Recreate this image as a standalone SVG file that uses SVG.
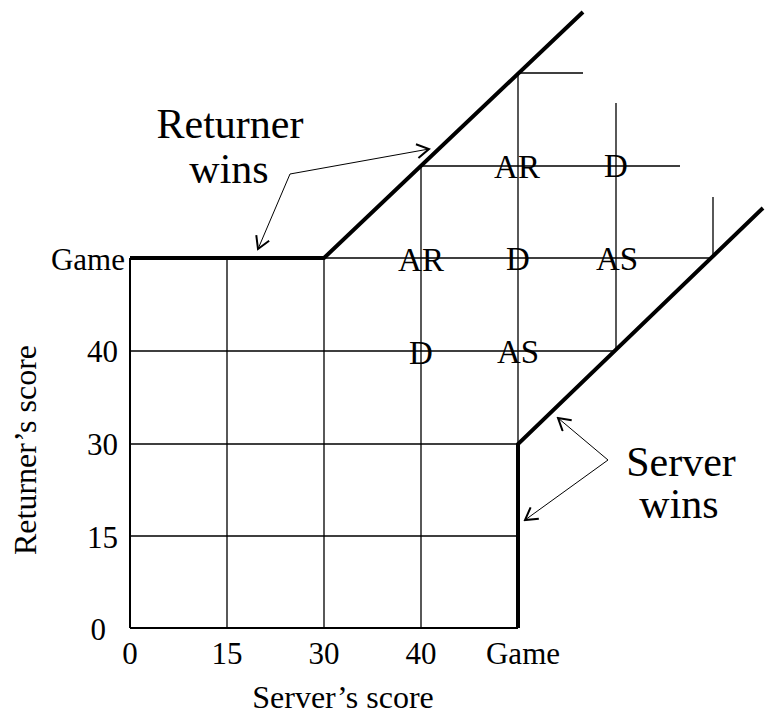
<svg xmlns="http://www.w3.org/2000/svg" width="768" height="715" viewBox="0 0 768 715">
  <style>
    .grid { stroke: #000; stroke-width: 1.3; fill: none; }
    .bound { stroke: #000; stroke-width: 4; fill: none; stroke-linejoin: miter; }
    .conn { stroke: #000; stroke-width: 1; fill: none; }
    text { font-family: "Liberation Serif", "Times New Roman", serif; fill: #000; }
    .big { font-size: 42px; }
    .tick { font-size: 31px; }
    .axis { font-size: 32px; }
    .cell { font-size: 33px; text-anchor: middle; }
  </style>
  <defs>
    <marker id="head" markerWidth="16" markerHeight="16" refX="14" refY="8" orient="auto" markerUnits="userSpaceOnUse">
      <path d="M2,1 L14,8 L2,15" fill="none" stroke="#000" stroke-width="2"/>
    </marker>
  </defs>
  <rect width="768" height="715" fill="#fff"/>

  <!-- score grid -->
  <g id="grid" class="grid">
    <path d="M130,536 H518 M130,444 H518 M130,351 H616 M130,258 H713 M421,166 H680 M518,73 H583"/>
    <path d="M227,258 V628 M324,258 V628 M421,166 V628 M518,73 V628 M616,103 V351 M713,197 V258"/>
    <path d="M130,628 H518 M130,258 V628" stroke-width="2"/>
  </g>

  <!-- winning boundaries -->
  <g id="returner-boundary">
    <path class="bound" d="M130,258 H324 L583,12"/>
  </g>
  <g id="server-boundary">
    <path class="bound" d="M518,628 V444 L763,208"/>
  </g>

  <!-- state labels -->
  <g id="states">
    <text class="cell" x="517" y="178">AR</text>
    <text class="cell" x="616" y="177">D</text>
    <text class="cell" x="421" y="271">AR</text>
    <text class="cell" x="518" y="270">D</text>
    <text class="cell" x="617" y="270">AS</text>
    <text class="cell" x="421" y="364">D</text>
    <text class="cell" x="518" y="363">AS</text>
  </g>

  <!-- callouts -->
  <g id="returner-wins">
    <text class="big" x="230" y="138" text-anchor="middle">Returner</text>
    <text class="big" x="229" y="183" text-anchor="middle">wins</text>
  </g>
  <g id="server-wins">
    <text class="big" x="681" y="476" text-anchor="middle">Server</text>
    <text class="big" x="679" y="518" text-anchor="middle">wins</text>
  </g>
  <g id="connectors">
    <path class="conn" d="M290,174 L429,149" marker-end="url(#head)"/>
    <path class="conn" d="M290,174 L258,249" marker-end="url(#head)"/>
    <path class="conn" d="M608,460 L558,418" marker-end="url(#head)"/>
    <path class="conn" d="M608,460 L525,520" marker-end="url(#head)"/>
  </g>

  <!-- axes labels -->
  <g id="y-ticks" class="tick" text-anchor="end">
    <text x="125" y="270">Game</text>
    <text x="118" y="362">40</text>
    <text x="118" y="455">30</text>
    <text x="118" y="548">15</text>
    <text x="106" y="640">0</text>
  </g>
  <g id="x-ticks" class="tick" text-anchor="middle">
    <text x="130" y="664">0</text>
    <text x="227" y="664">15</text>
    <text x="324" y="664">30</text>
    <text x="421" y="664">40</text>
    <text x="523" y="664">Game</text>
  </g>
  <g id="axis-titles" class="axis" text-anchor="middle">
    <text x="343" y="708">Server’s score</text>
    <text transform="translate(36,450) rotate(-90)">Returner’s score</text>
  </g>
</svg>
